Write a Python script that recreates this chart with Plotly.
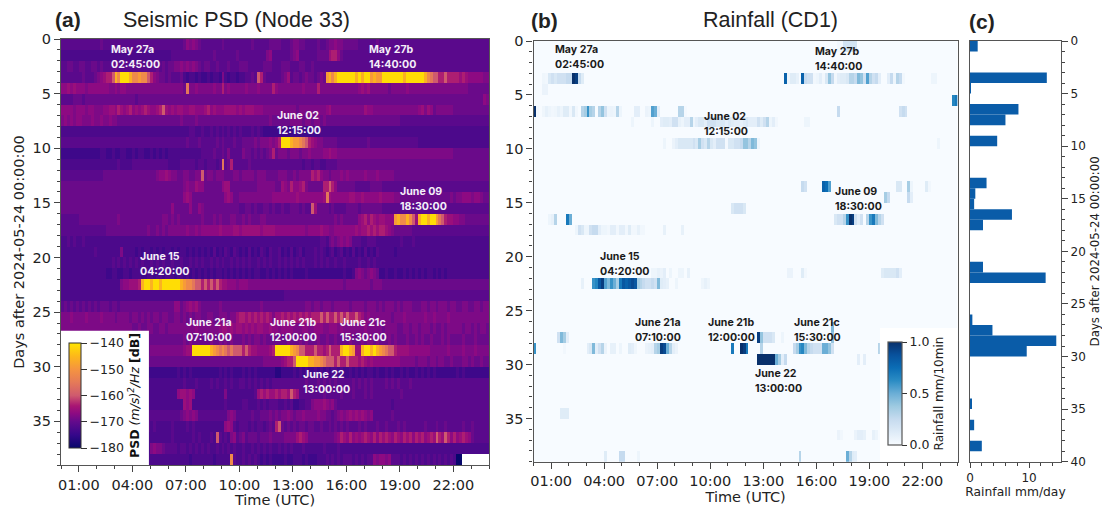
import plotly.graph_objects as go

W, H = 1102, 508
CHUNK = 12  # cells per block in the PSD rows (10-minute cells, 2 hours per block)

# dB value for each level character in PSD_ROWS; "_" means no data
PSD_LEVELS = {"0": -180, "1": -176.5, "2": -174, "3": -172.5, "4": -171, "5": -169.5, "6": -168, "7": -166.8,
              "8": -165.5, "9": -163.5, "a": -160, "b": -155.5, "c": -152, "d": -149, "e": -146, "f": -141}

PSD_ROWS = [
 "444444444444 454444444444 444444444444 444445767654 444444544444 444454444455 554445665544 445445667665 555544444454 444444444444 444444444444 444444444444",
 "333333333333 333333333333 333333333333 344444444444 444544444445 444444444674 444445674444 445555899754 444444444444 444444444444 444444444444 444444444444",
 "445544554455 454444544444 444444445454 556676767654 554454445444 555444445554 445554445544 544444444444 444444444444 444444444444 444444444444 444444444444",
 "444444454445 67899aecfffe ccdcca976554 544453233232 232332632332 334454a95444 445684554565 54565decefff fffefeffdedd fffffffeffff ffecbaa99a99 998987777766",
 "778787776777 777766767766 666666666666 666665b66766 666766967666 667666766669 766666666766 669666666666 666678786666 665666667666 666666666666 666665555555",
 "444455545555 555555555555 545555555555 555555555555 555555555555 555555555555 555555555555 555555555555 555555555555 555555555555 555555555555 555555555576",
 "777767776776 667788798789 7878987789a8 787887788777 897877788887 878887776666 666666656666 666667866666 666666877666 666666666666 786875666666 555555555555",
 "676767766676 676676655555 555555555555 555565555655 555555555555 555555555565 555556666566 566565555555 555555555555 555555444444 444444444444 444444444444",
 "333333333333 333333333333 333333333333 333333344334 334343434343 433343432222 222222222222 222333333333 333333333333 333333333333 333333333333 333333333333",
 "444444444444 444444444444 444444444444 444444544454 444454544454 455556566676 79fffeddcba9 876655555444 444444454444 444444444444 333333333333 333333333333",
 "222222222222 233223223322 323322323232 333333333334 444544546444 465545454569 566656665667 666677877666 666666666666 666666666666 666666666666 555555555555",
 "333333333333 333333343333 444444444444 333344444344 344434b45944 444544444444 444444444344 344334444555 555555555555 555555555555 555555555555 555555555555",
 "444444444444 445555555555 555555556778 76655665566a 566566655566 566665666555 566655656666 989766566676 766666766676 666655555555 555555555555 555555555555",
 "555555555555 555555555555 555555555555 555556766877 555555788555 555555666666 558769778965 555599a97555 555444445555 444444444444 444444444444 444444444444",
 "555555555555 555555555555 555555555555 555557875555 555555578755 666666666667 777777787777 77778b877777 788778777778 777766555555 555555555556 566777677655",
 "555555555555 555555555555 555555555555 575555575576 555555555555 445545445545 445445554544 a85555454444 555545555555 444444444444 444444444444 444444444444",
 "444444555555 555555565555 555555555566 565655555556 555656555665 565655566555 555555555555 555555556565 555578979878 8777decceca8 effeffdba988 776655555555",
 "444444444444 444555555555 555556556565 666666766767 777778777788 788888878888 777777777767 777877667777 777878898989 987655555544 444444444444 444444444444",
 "334343343333 333333333333 333333333333 333333333333 333333333333 333333333333 333333333333 333443565676 764443344433 333333433343 333333333333 333333333333",
 "333333333334 333333336333 323233232323 323233232323 232423243243 232423243243 342324234233 343432342342 324232423243 333323333333 333333333333 333333333333",
 "333333333333 333334343434 343433434343 343343343434 334343433434 343433434343 343434343433 343434334334 333343343433 333333333333 333333333333 333333333333",
 "333333333333 333223322332 333223323323 332332323232 323233232323 232323322323 232323222232 222222222223 223676567652 232232232323 232332323233 333333333333",
 "333333333333 333333336778 889effeffeff ffffedccbaa9 a9a9a9887776 777666666666 666666666666 666666666665 666666665666 555555555555 555555555555 555555555555",
 "333333333333 333333333333 333333333333 333333333333 333333333333 333333333333 333444444444 444444444444 444444444444 444444444444 444444444444 444444444444",
 "454545454545 455545545555 555555555555 557756787865 555556555555 555555565555 555555555566 566566656666 656666566656 566656566655 566566566656 655665566566",
 "666766667666 676666566665 665656566566 556656565665 566556665668 998989898986 889898989898 999a9a99a9a9 a99a98676666 666566676666 667667666676 666666666666",
 "666666666666 666666666666 556556655665 666666666766 666667887878 878787887787 767777666776 677766777676 666666766666 566665566566 566656556566 666566565665",
 "____________ ____________ 555555555555 555556565555 556556565655 565656656555 555565556565 556556556555 565556566565 556565556556 565565556565 555655565555",
 "____________ ____________ 555555666666 66666788ffff ffedcbcbabaa a9a988777789 fffffedcaa99 9a9989a999ef fed88effefed cbaa98888777 777766666676 666766676666",
 "____________ ____________ 555555555555 555555555555 555555555555 555555556666 667899affffe eddcbaaa9a99 a99989878777 777777666665 666566566556 555665655655",
 "____________ ____________ 222222222222 222323232222 222223232322 232323222222 112222323232 232323233232 232323233232 232322323223 232323222222 232322222222",
 "____________ ____________ 333333333333 333334333433 334343343433 443434343434 444444444454 445454545444 445454545444 454545444544 444444444444 444444444444",
 "____________ ____________ 333333333333 333788787333 333333363333 333334898988 98998a984444 444454444454 445444545444 444444544444 444444444444 444444444444",
 "____________ ____________ 333333333333 333338783333 333333343333 344333434344 433434223344 677787675444 444444444444 444344444444 444444444444 444444444444",
 "____________ ____________ 444444444444 444456767644 444444446764 444454455565 656676566766 667665545676 787878767444 444544444444 444444444444 444444444444",
 "____________ ____________ 333334343333 343333434333 333333378743 444343443454 9a5454545545 544544545454 544454544454 454445454444 445444544544 444544544444",
 "____________ ____________ 333333333333 343333334343 3343a4343674 564555455565 555666689875 555555556798 797878987979 898798798979 897898a98a97 978987544444",
 "____________ ____________ 333333676654 444344343434 343343434343 343343434343 343434333433 333343333433 333333333333 333333333333 333333333333 333333333333",
 "____________ ____________ 333333333333 333333323333 333233333c43 343434323232 222322333232 223334343434 443434344767 767444343434 343434343434 300_________",
]

# Rainfall runs: (day row, first 10-minute slot, mm/10min for consecutive slots)
RAIN_RUNS = [
 (0, 103, [.03, .03, .18, .18, .18, .18, .18]),
 (3, 3, [.04, .03, .15, .2, .15, .2, .2, .2, .25, .25, 1.0, .95, .25, .12]),
 (3, 85, [.8, .05, .12, .12, .08, 0, .8, .25, .2, .2, .03, .05, .1, .03, .15, .4, .25, .03, .1, .12, .12, .15,
          .3, .3, .25, .45, .4, .2, .55, .3, .2, .25, .1, 0, 0, .1, .25, .05, .3, .25, .03]),
 (3, 135, [.05, .05]),
 (4, 3, [.06, .06]),
 (5, 142, [.65, .7]),
 (6, 0, [1.0, .02, 0, .04, .08, .05, .03, .04, .08, .05, .12, .12, .03, .15, .03, 0, .3, .35, .6, .35, .3, 0,
         .3, .4, .2, .05, .06, .05, .3, .05, 0, 0, 0, 0, .1, .1, 0, 0, .06, .05, .55, .5, .1, 0, 0, 0, 0, 0, 0, .3, .3, .02]),
 (6, 103, [.25]),
 (6, 124, [.2, .25, .2]),
 (7, 33, [.05]),
 (7, 40, [.05]),
 (7, 43, [.1, .12, .12, .1, .2, .2, .08, .05, .1, .1, .3, .05, .1, .15, .15, .1, .2, .2, .2, .15, .15, .15, .1, .15,
          .12, .1, .1, .08, .12, .15, .1, .1, .1, .2, .12, .2, .3, .05, .1, .03]),
 (7, 92, [.05, .05]),
 (9, 44, [.05]),
 (9, 47, [.06, .1, .15, .15, .15, .15, .15, .2, .15, .35, .2, .15, .3, .15, .1, .2, .2, .2, .02, .15, .15, .2, .2, .25, .4, .4, .3, .45, .4, .05]),
 (9, 137, [.05]),
 (13, 91, [.25, .2]),
 (13, 98, [.8, .75, .55]),
 (13, 123, [.15, .15]),
 (13, 127, [.35, .05]),
 (13, 133, [.12, .03]),
 (14, 119, [.35, .25]),
 (14, 127, [.25, .1]),
 (15, 67, [.15, .2, .2, .2, .15]),
 (16, 5, [.05, .08, .3]),
 (16, 11, [.7, .5]),
 (16, 102, [.15, .2, .2, .3, .6, 1.0, .95, .2, .1, .2]),
 (16, 113, [.3, .6, .7, .45, .3, .2]),
 (17, 14, [.05, .2, .15, .05, .05, .2, .25, .25, .1, .05, .05, .03, .1, .1, .03, .1, .1, .03, .12, .03, .03, .08, .03, .03]),
 (17, 44, [.08]),
 (17, 50, [.08]),
 (21, 40, [.05, .05, .08, .06, .1]),
 (21, 46, [.05]),
 (21, 49, [.05, .05]),
 (21, 52, [.08]),
 (21, 86, [.06, .06]),
 (21, 91, [.12, .03]),
 (21, 118, [.12, .15, .15, .15, .15, .2, .1]),
 (22, 16, [.08]),
 (22, 20, [.6, .65, .85, .95, .55, .45, .6, .5, .35, .7, .85, .8, .85, .9, .85, .35, .3, .25, .2, .2, .25, .2, .45, .12, .1, .08]),
 (22, 48, [.05]),
 (22, 57, [.05, .08, .05]),
 (26, 101, [.45]),
 (27, 8, [.2, .45, .35, .1]),
 (27, 76, [.95, .4, .2, .2, .2, .15]),
 (27, 84, [.05]),
 (27, 101, [.4]),
 (28, 0, [.6]),
 (28, 10, [.03]),
 (28, 18, [.1, .15, .45, .1, .2, .3, .06]),
 (28, 26, [.08, .08]),
 (28, 29, [.05]),
 (28, 32, [.12, .1, .04]),
 (28, 38, [.06, .08, .1, .3, .35, .95, .9, .5, .3, .1, .06]),
 (28, 67, [.7]),
 (28, 70, [1.0, .95, .7]),
 (28, 77, [.3]),
 (28, 88, [.25, .35, .6, .65, .45, .3, .25, .2, .2, .2, .5, .5, .4, .2]),
 (28, 117, [.3]),
 (29, 76, [1.0, 1.0, 1.0, 1.0, 1.0, 1.0, .5, .35, .1, .25]),
 (29, 110, [.1]),
 (29, 112, [.1]),
 (34, 9, [.12, .12, .12]),
 (36, 103, [.06, .03]),
 (36, 109, [.06, .1, .1, .08]),
 (36, 115, [.08, .05]),
 (38, 24, [.12]),
 (38, 29, [.25, .25]),
 (38, 35, [.05]),
 (38, 90, [.3]),
 (38, 106, [.5, .3, .12, .1]),
]

DAYS_C = [0, 3, 4, 6, 7, 9, 13, 14, 15, 16, 17, 21, 22, 26, 27, 28, 29, 34, 36, 38]
RAIN_DAILY = [1.3, 13.0, 0.1, 8.2, 6.0, 4.6, 2.8, 0.9, 0.7, 7.1, 2.2, 2.2, 12.8, 0.4, 3.8, 14.6, 9.6, 0.3, 0.7, 2.0]

HOUR_TICKS = [1, 4, 7, 10, 13, 16, 19, 22]
HOUR_LABELS = ["01:00", "04:00", "07:00", "10:00", "13:00", "16:00", "19:00", "22:00"]
DAY_TICKS = [0, 5, 10, 15, 20, 25, 30, 35]
DAY_TICKS_C = [0, 5, 10, 15, 20, 25, 30, 35, 40]

LABELS_A = [("May 27a", "02:45:00", 111, 57), ("May 27b", "14:40:00", 369, 57), ("June 02", "12:15:00", 277, 122.5),
            ("June 09", "18:30:00", 400, 199), ("June 15", "04:20:00", 140, 263.5), ("June 21a", "07:10:00", 186, 329.5),
            ("June 21b", "12:00:00", 270, 329.5), ("June 21c", "15:30:00", 340, 329.5), ("June 22", "13:00:00", 303, 381.5)]
LABELS_B = [("May 27a", "02:45:00", 555, 56.5), ("May 27b", "14:40:00", 815, 58.5), ("June 02", "12:15:00", 704, 124),
            ("June 09", "18:30:00", 835, 199), ("June 15", "04:20:00", 600, 264), ("June 21a", "07:10:00", 635, 329.5),
            ("June 21b", "12:00:00", 708, 330), ("June 21c", "15:30:00", 794, 329.5), ("June 22", "13:00:00", 755, 380.5)]

PSD_COLORS = [[0, "#07076b"], [.125, "#35078a"], [.25, "#630a8c"], [.33, "#8d0a82"], [.4, "#a81573"], [.5, "#cf5a6e"],
              [.625, "#e57a58"], [.75, "#f59440"], [.875, "#fdb81a"], [1, "#ffe600"]]
RAIN_COLORS = [[0, "#f7fbff"], [.125, "#deebf7"], [.25, "#c6dbef"], [.375, "#9ecae1"], [.5, "#6baed6"], [.625, "#2b8cc4"],
               [.75, "#0b6db5"], [.875, "#08519c"], [1, "#08306b"]]

hours = [(i + .5) / 6 for i in range(144)]
days = [d + .5 for d in range(39)]


def decode(row):
    out = []
    for block in row.split():
        for ch in (block + block[-1] * CHUNK)[:CHUNK]:
            out.append(None if ch == "_" else PSD_LEVELS[ch])
    return out


psd = [decode(r) for r in PSD_ROWS]
rain = [[0.0] * 144 for _ in days]
for day, start, vals in RAIN_RUNS:
    for k, v in enumerate(vals):
        rain[day][start + k] = v

TICK = "DejaVu Sans"
AX = "#555555"


def dom(a, b):
    return [a / W, b / W]


def domy(top, bottom):
    return [1 - bottom / H, 1 - top / H]


def xy(x, y):
    return x / W, 1 - y / H


fig = go.Figure()
fig.add_trace(go.Heatmap(
    z=psd, x=hours, y=days, xaxis="x", yaxis="y", zmin=-180, zmax=-140, colorscale=PSD_COLORS, hoverongaps=False,
    colorbar=dict(x=69 / W, xanchor="left", xpad=0, y=1 - 395.5 / H, yanchor="middle", ypad=0, thickness=12,
                  lenmode="pixels", len=105, outlinecolor="#333", outlinewidth=1, ticks="outside", ticklen=6, tickcolor="#333",
                  tickvals=[-180, -170, -160, -150, -140], tickfont=dict(family=TICK, size=12.5, color="#222"),
                  title=dict(text="<b>PSD</b> <i>(m/s)<sup>2</sup>/Hz</i> <b>[dB]</b>", side="right",
                             font=dict(family=TICK, size=12.5, color="#111")))))
fig.add_trace(go.Heatmap(
    z=rain, x=hours, y=days, xaxis="x2", yaxis="y2", zmin=0, zmax=1, colorscale=RAIN_COLORS,
    colorbar=dict(x=888 / W, xanchor="left", xpad=0, y=1 - 393.5 / H, yanchor="middle", ypad=0, thickness=14,
                  lenmode="pixels", len=103, outlinecolor="#555", outlinewidth=1.2, ticks="outside", ticklen=5, tickcolor="#333",
                  tickvals=[0, .5, 1], ticktext=["0.0", "0.5", "1.0"], tickfont=dict(family=TICK, size=12.5, color="#222"),
                  title=dict(text="Rainfall mm/10min", side="right", font=dict(family=TICK, size=12, color="#222")))))
fig.add_trace(go.Bar(x=RAIN_DAILY, y=[d + .5 for d in DAYS_C], orientation="h", width=1, xaxis="x3", yaxis="y3",
                     marker=dict(color="#0a5ca8", line=dict(width=0))))


def hour_axis(domain, anchor, size=14.5):
    return dict(domain=domain, anchor=anchor, range=[0, 24], tickmode="array", tickvals=HOUR_TICKS, ticktext=HOUR_LABELS,
                tickfont=dict(family=TICK, size=size, color="#222"), ticks="outside", ticklen=6, tickcolor="#444",
                showline=True, mirror=True, linecolor=AX, linewidth=1.4, showgrid=False, zeroline=False,
                minor=dict(tick0=0, dtick=1, ticks="outside", ticklen=3, tickcolor="#444", showgrid=False),
                title=dict(text="Time (UTC)", standoff=3, font=dict(family=TICK, size=14.5, color="#222")))


def day_axis(domain, anchor, vals, rng, size=14.5, side="left"):
    return dict(domain=domain, anchor=anchor, range=rng, tickmode="array", tickvals=vals, ticktext=[str(v) for v in vals],
                tickangle=0, side=side, tickfont=dict(family=TICK, size=size, color="#222"), ticks="outside", ticklen=6,
                tickcolor="#444", showline=True, mirror=True, linecolor=AX, linewidth=1.4, showgrid=False, zeroline=False,
                minor=dict(tick0=0, dtick=1, ticks="outside", ticklen=3, tickcolor="#444", showgrid=False))


ya = day_axis(domy(39, 465), "x", DAY_TICKS, [39, 0])
ya["title"] = dict(text="Days after 2024-05-24 00:00:00", standoff=4, font=dict(family=TICK, size=14.5, color="#222"))
yb = day_axis(domy(41, 461.7), "x2", DAY_TICKS, [39, 0])
yc = day_axis(domy(41, 461.7), "x3", DAY_TICKS_C, [40, 0], size=12, side="right")
yc["title"] = dict(text="Days after 2024-05-24 00:00:00", standoff=6, font=dict(family=TICK, size=11.8, color="#222"))

xc = dict(domain=dom(970, 1061), anchor="y3", range=[0, 15.4], tickmode="array", tickvals=[0, 10], ticktext=["0", "10"],
          tickfont=dict(family=TICK, size=12, color="#222"), ticks="outside", ticklen=5, tickcolor="#444", showline=True,
          mirror=True, linecolor=AX, linewidth=1.4, showgrid=False, zeroline=False,
          minor=dict(tick0=0, dtick=2, ticks="outside", ticklen=3, tickcolor="#444", showgrid=False),
          title=dict(text="Rainfall mm/day", standoff=1, font=dict(family=TICK, size=12.3, color="#222")))

annotations = []


def text(x, y, s, size, color, family, anchor="left"):
    px, py = xy(x - 2, y)
    annotations.append(dict(xref="paper", yref="paper", x=px, y=py, text=s, showarrow=False, xanchor=anchor, yanchor="middle",
                            align="left", font=dict(family=family, size=size, color=color)))


for name, clock, x, y in LABELS_A:
    text(x, y - 7.5, f"<b>{name}</b>", 10.6, "#f4eef8", "Inter")
    text(x, y + 7.5, f"<b>{clock}</b>", 10.6, "#f4eef8", "Inter")
for name, clock, x, y in LABELS_B:
    text(x, y - 7.5, f"<b>{name}</b>", 10.6, "#1a1a1a", "Inter")
    text(x, y + 7.5, f"<b>{clock}</b>", 10.6, "#1a1a1a", "Inter")
text(55, 19, "<b>(a)</b>", 21, "#222", "Liberation Sans")
text(123, 20, "Seismic PSD (Node 33)", 21.5, "#222", "Liberation Sans")
text(531, 20, "<b>(b)</b>", 21, "#222", "Liberation Sans")
text(703, 20, "Rainfall (CD1)", 21.5, "#222", "Liberation Sans")
text(969, 21, "<b>(c)</b>", 21, "#222", "Liberation Sans")

fig.update_layout(
    width=W, height=H, margin=dict(l=0, r=0, t=0, b=0, autoexpand=False), paper_bgcolor="white", plot_bgcolor="white", showlegend=False,
    xaxis=hour_axis(dom(61, 489), "y"), yaxis=ya,
    xaxis2=hour_axis(dom(533.5, 957.7), "y2"), yaxis2=yb,
    xaxis3=xc, yaxis3=yc,
    annotations=annotations,
    shapes=[
        dict(type="rect", xref="x", yref="y", x0=0, x1=4.93, y0=26.7, y1=39, fillcolor="white", line=dict(width=0), layer="above"),
        dict(type="rect", xref="x2", yref="y2", x0=19.6, x1=24, y0=26.6, y1=39, fillcolor="white", line=dict(width=0), layer="above"),
    ],
)

fig.write_html("out.html", config=dict(displayModeBar=False), post_script="document.body.style.margin='0';")
